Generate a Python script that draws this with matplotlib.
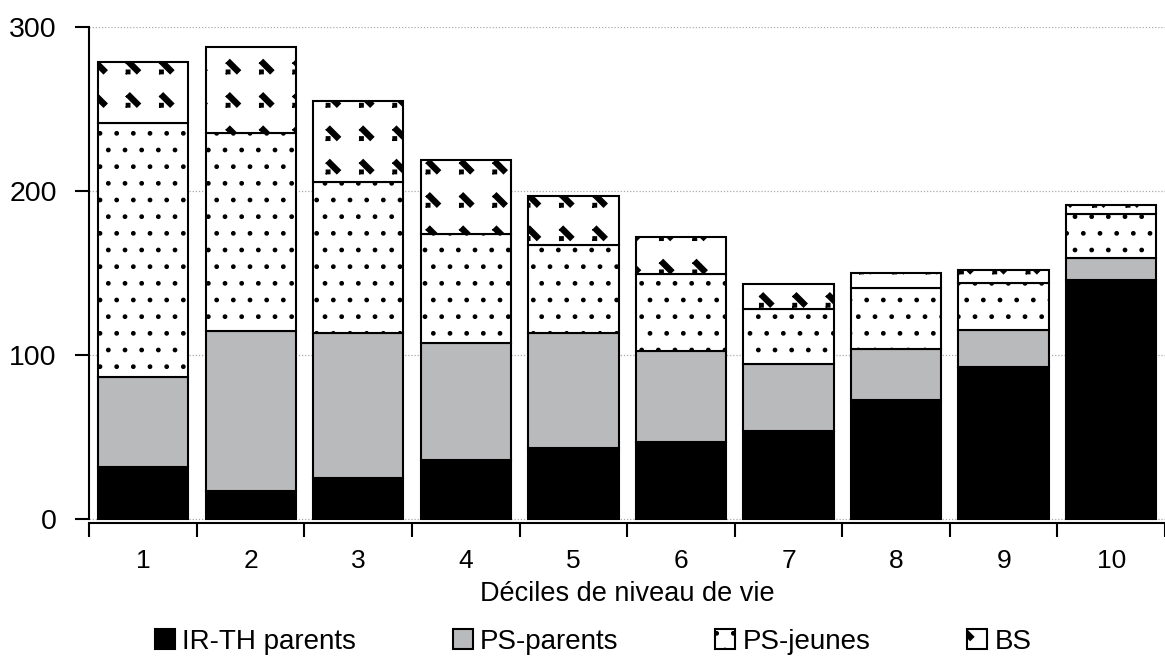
import numpy as np
import matplotlib
matplotlib.use("Agg")
import matplotlib.pyplot as plt
import matplotlib.hatch as mhatch
from matplotlib.path import Path
from matplotlib.ticker import FixedLocator

# values (euros / month, stacked)
deciles = ["1", "2", "3", "4", "5", "6", "7", "8", "9", "10"]
ir_th_parents = [31.8, 17.0, 25.3, 35.9, 43.2, 47.2, 53.9, 72.4, 92.7, 146.0]
ps_parents = [54.6, 97.8, 87.9, 71.6, 70.0, 55.4, 40.4, 31.1, 22.5, 12.9]
ps_jeunes = [155.0, 120.5, 92.3, 66.3, 53.6, 46.7, 33.5, 37.3, 28.8, 27.1]
bs = [37.1, 52.3, 49.1, 45.1, 30.2, 22.7, 15.6, 9.3, 7.7, 5.5]
labels = ["IR-TH parents", "PS-parents", "PS-jeunes", "BS"]


# custom sparse "staircase" hatch, hooked on the '*' character
class StepHatch(mhatch.HatchPatternBase):
    size = 0.42

    def __init__(self, hatch, density):
        self.num_rows = (hatch.count('*') * density) // 2
        band = [(-1, 0.5), (-0.5, 1.0), (1.0, -0.5), (0.5, -1.0), (-1, 0.5)]
        dot = [(-1.0, -1.0), (-0.5, -1.0), (-0.5, -0.5), (-1.0, -0.5), (-1.0, -1.0)]
        self.shape = np.array(band + dot, dtype=float)
        codes = [Path.MOVETO] + [Path.LINETO] * 4 + [Path.MOVETO] + [Path.LINETO] * 4
        self.shape_codes = np.array(codes, dtype=Path.code_type)
        if self.num_rows:
            self.num_vertices = (self.num_rows + 1) ** 2 * len(self.shape)
        else:
            self.num_vertices = 0

    def set_vertices_and_codes(self, vertices, codes):
        step = 1.0 / self.num_rows
        shp = self.shape * step * self.size / 2
        vparts, cparts = [], []
        for r in range(self.num_rows + 1):
            for c in range(self.num_rows + 1):
                vparts.append(shp + [c * step, r * step])
                cparts.append(self.shape_codes)
        np.concatenate(vparts, out=vertices)
        np.concatenate(cparts, out=codes)


mhatch._hatch_types = [h for h in mhatch._hatch_types if h is not mhatch.Stars] + [StepHatch]

plt.rcParams['font.family'] = ['Liberation Sans', 'DejaVu Sans']
plt.rcParams['hatch.linewidth'] = 1.0

fig = plt.figure(figsize=(11.65, 6.59), dpi=100)
ax = fig.add_axes([0.0767, 0.207, 0.9233, 0.7525])

x = np.arange(1, len(deciles) + 1)
w = 0.84
bottom = np.zeros(len(deciles))
styles = [dict(color="black"), dict(color="#b9babc"),
          dict(color="white", hatch="."), dict(color="white", hatch="*")]
for vals, lab, st in zip([ir_th_parents, ps_parents, ps_jeunes, bs], labels, styles):
    ax.bar(x, vals, w, bottom=bottom, label=lab, edgecolor="black", linewidth=1.5,
           zorder=3, **st)
    bottom = bottom + np.array(vals)

ax.set_xlim(0.5, 10.5)
ax.set_ylim(-2, 300)
ax.set_yticks([0, 100, 200, 300])
ax.set_xticks(x)
ax.set_xticklabels(deciles)
ax.xaxis.set_minor_locator(FixedLocator(np.arange(0.5, 11, 1)))
ax.tick_params(axis="x", which="major", length=0, pad=19, labelsize=19)
ax.tick_params(axis="x", which="minor", length=10, width=1.5, direction="out")
ax.tick_params(axis="y", length=10, width=1.5, pad=13.5, labelsize=20.5)

for s in ["top", "right"]:
    ax.spines[s].set_visible(False)
ax.spines["left"].set_bounds(0, 300)
ax.spines["left"].set_linewidth(1.5)
ax.spines["bottom"].set_linewidth(1.5)

ax.yaxis.grid(True, linestyle=(0, (1, 1.5)), color="#aaaaaa", linewidth=0.9, zorder=0)
ax.set_axisbelow(True)

ax.set_xlabel("Déciles de niveau de vie", fontsize=19.5, labelpad=6)

fig.legend(loc="center", bbox_to_anchor=(0.509, 0.026), ncol=4, frameon=False,
           fontsize=20, handlelength=0.72, handleheight=0.72, handletextpad=0.25,
           columnspacing=3.5, borderaxespad=0, borderpad=0)

fig.savefig("out.png", dpi=100)
